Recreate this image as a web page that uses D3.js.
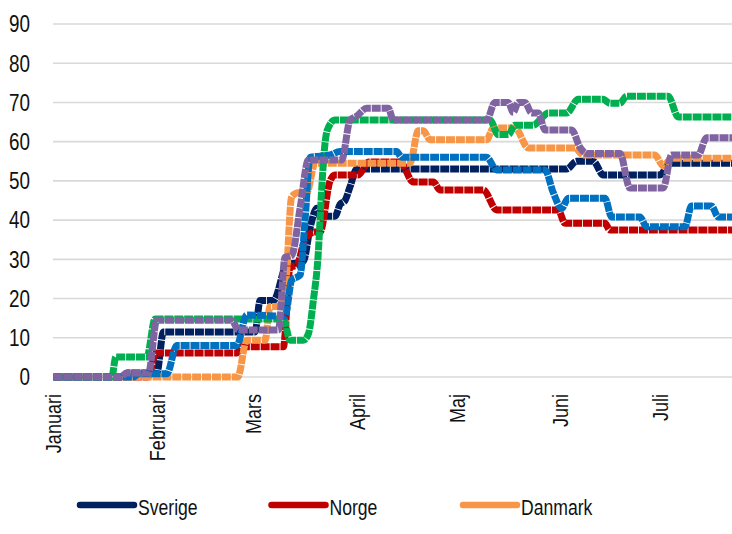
<!DOCTYPE html>
<html>
<head>
<meta charset="utf-8">
<script src="https://cdn.jsdelivr.net/npm/d3@7"></script>
<style>
  html, body { margin: 0; padding: 0; background: #fff; }
  svg text { font-family: "Liberation Sans", Arial, sans-serif; fill: #111; }
</style>
</head>
<body>
<div id="chart"></div>
<script>
// Month labels on the x axis and y ticks
const months = ["Januari", "Februari", "Mars", "April", "Maj", "Juni", "Juli"];
const yTicks = [0, 10, 20, 30, 40, 50, 60, 70, 80, 90];

// Each series: [days since 1 Jan 2020, value]
const sverige = [[0,0],[20.5,0],[22,1],[31,1],[33,11.5],[60.5,11.5],[62,19.5],[66,19.5],[70,28.5],[75,29.5],[77,38],[79,43],[80,41],[84.5,41],[86,44],[87.5,45],[89,48.5],[91,53],[154,53],[157,55],[162,55],[165,51.5],[182,51.5],[185,54.5],[204,54.5]];
const norge = [[0,0],[28.3,0],[30.8,6.1],[55,6.1],[56.5,7.7],[69,7.7],[71,28],[73,28.5],[75.5,35],[78.5,37],[80,37],[83,50],[84.5,51.5],[91.5,51.5],[94.5,54.8],[104,54.8],[108,49.7],[114,49.7],[116,47.7],[129,47.7],[133,42.6],[151.5,42.6],[153.5,39.2],[165.5,39.2],[167,37.5],[204,37.5]];
const danmark = [[0,0],[55.3,0],[58,9.4],[63.5,9.4],[65,18],[67.5,18],[69.5,22],[71.5,46],[73.5,47],[76,47],[78.5,54.5],[107,54.5],[109.5,62.8],[111,62.8],[113,60.5],[130,60.5],[132,63.5],[138.5,63.5],[142.5,58.4],[156.5,58.4],[159,56.6],[180.5,56.6],[183,53.8],[185.5,55.8],[204,55.8]];
const serieGron = [[0,0],[17.5,0],[18.7,5.1],[28,5.1],[30.5,14.8],[69,14.8],[71,9.4],[75,9.4],[76.5,11],[78,19.6],[79.5,32],[80.3,45],[81.2,57],[82.2,63],[84.5,65.5],[131,65.5],[133.5,61.8],[136.5,61.8],[138.5,64.2],[144,64.2],[146.5,66],[148.5,67.3],[154,67.3],[157.5,70.8],[165,70.8],[167,69.8],[170,69.8],[172,71.6],[184.5,71.6],[187.5,66.3],[204,66.3]];
const serieBla = [[0,0],[24,0],[25.5,0.8],[34,0.8],[37,8],[55,8],[58,15.8],[69.5,15.5],[71.5,24.7],[74,26],[75.5,40],[77,56],[83,56.6],[86,57.5],[103,57.5],[104.5,56],[130,56],[133,52.8],[147.5,52.8],[150,47],[152.5,43],[154.5,45.6],[165.5,45.6],[167.5,40.8],[176,40.8],[178,38.3],[189.5,38.3],[191.5,43.6],[197.5,43.6],[199.5,40.8],[204,40.8]];
const serieLila = [[0,0],[20,0],[22,1],[28.5,1],[31,14.5],[53.5,14.5],[55.5,12],[67.5,12],[69.5,30.5],[71.5,31],[74,43],[76.5,55.3],[86.5,55.3],[89,65.5],[91,66.5],[94,68.5],[100.5,68.5],[102,65.5],[130,65.5],[132.5,70],[136.5,70],[138,67.5],[139.5,70],[141.5,70],[143.5,67.3],[145.5,67.3],[147.5,63],[155.5,63],[158,58.6],[160,57],[170,57],[173,48.2],[183,48.2],[185.5,56.6],[193.5,56.6],[196,61],[204,61]];

const series = [
  { name: "Sverige", color: "#002060", values: sverige, legend: true },
  { name: "Norge", color: "#C00000", values: norge, legend: true },
  { name: "Danmark", color: "#F79646", values: danmark, legend: true },
  { name: null, color: "#00B050", values: serieGron, legend: false },
  { name: null, color: "#0070C0", values: serieBla, legend: false },
  { name: null, color: "#8064A2", values: serieLila, legend: false }
];

const width = 732, height = 534;
const narrow = 0.82; // squeeze text to look like a narrow face
const start = Date.UTC(2020, 0, 1);
const toDate = d => new Date(start + d * 864e5);

const svg = d3.select("#chart").append("svg")
    .attr("width", width)
    .attr("height", height);

const x = d3.scaleUtc()
    .domain([toDate(0), toDate(204)])
    .range([53.5, 733.2]);

const y = d3.scaleLinear()
    .domain([0, 90])
    .range([377, 24]);

// Gridlines
svg.append("g")
    .selectAll("line")
    .data(yTicks)
    .join("line")
    .attr("x1", 53)
    .attr("x2", width)
    .attr("y1", d => y(d))
    .attr("y2", d => y(d))
    .attr("stroke", "#d9d9d9")
    .attr("stroke-width", 1.6);

// Y axis labels
svg.append("g")
    .selectAll("text")
    .data(yTicks)
    .join("text")
    .attr("transform", d => `translate(30,${y(d)}) scale(${narrow},1)`)
    .attr("dy", "0.36em")
    .attr("text-anchor", "end")
    .attr("font-size", "23px")
    .text(d => d);

// Month labels, rotated
const monthTicks = d3.utcMonth.range(toDate(0), toDate(190));
svg.append("g")
    .selectAll("text")
    .data(monthTicks)
    .join("text")
    .attr("transform", d => `translate(${x(d)},394) rotate(-90) scale(${narrow},1)`)
    .attr("dy", "0.36em")
    .attr("text-anchor", "end")
    .attr("font-size", "22px")
    .text((d, i) => months[i]);

// Lines
const line = d3.line()
    .x(d => x(toDate(d[0])))
    .y(d => y(d[1]))
    .curve(d3.curveMonotoneX);

svg.append("g")
    .selectAll("path")
    .data(series)
    .join("path")
    .attr("d", d => line(d.values))
    .attr("fill", "none")
    .attr("stroke", d => d.color)
    .attr("stroke-width", 7)
    .attr("stroke-dasharray", "9,0.9")
    .attr("stroke-linejoin", "round");

// Legend (only the first row is visible in the original)
const legendItems = series.filter(d => d.legend);
const legend = svg.append("g")
    .selectAll("g")
    .data(legendItems)
    .join("g")
    .attr("transform", (d, i) => `translate(${77 + i * 191.5},505)`);

legend.append("line")
    .attr("x1", 3)
    .attr("x2", 57)
    .attr("stroke", d => d.color)
    .attr("stroke-width", 6.5)
    .attr("stroke-linecap", "round");

legend.append("text")
    .attr("transform", `translate(61,3) scale(0.8,1)`)
    .attr("font-size", "22px")
    .attr("dy", "0.3em")
    .text(d => d.name);
</script>
</body>
</html>
